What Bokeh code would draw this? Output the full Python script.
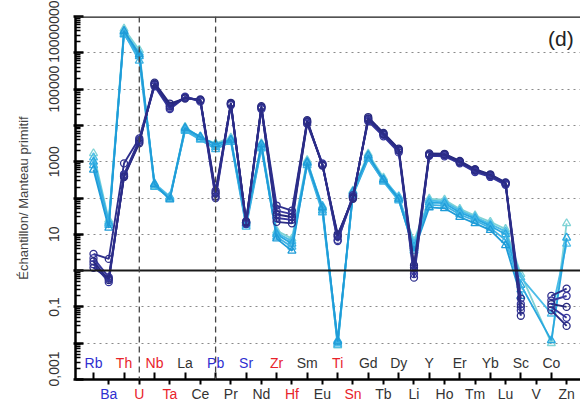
import math
from bokeh.plotting import figure
from bokeh.layouts import column
from bokeh.models import (Range1d, FixedTicker, Span, Label,
                          ColumnDataSource, CustomJSTickFormatter)
from bokeh.embed import file_html
from bokeh.resources import INLINE
from bokeh.core.properties import value

# ---------------- data ----------------
ELEMENTS = ["Rb", "Ba", "Th", "U", "Nb", "Ta", "La", "Ce", "Pb", "Pr", "Sr", "Nd",
            "Zr", "Hf", "Sm", "Eu", "Ti", "Sn", "Gd", "Tb", "Dy", "Li", "Y", "Ho",
            "Er", "Tm", "Yb", "Lu", "Sc", "V", "Co", "Zn"]
BLUE_ELEMENTS = ["Rb", "Ba", "Pb", "Sr"]
RED_ELEMENTS = ["Th", "U", "Nb", "Ta", "Zr", "Hf", "Ti", "Sn"]
DASHED_AT = ["U", "Pb"]

# dark samples (circles)
DARK_1 = [2.9, 2.1, 900, 4400, 140000, 35000, 58000, 50000, 160, 40000, 22, 32000,
          62, 45, 13000, 830, 7.0, 100, 15500, 5900, 2150, 0.64, 1600, 1600,
          1000, 590, 430, 250, 0.17, None, 0.2, 0.32]
DARK_2 = [2.2, 0.66, 420, 3800, 130000, 30000, 62000, 48000, 130, 38000, 20, 30000,
          45, 36, 12000, 900, 8.5, 110, 14000, 5500, 2000, 1.0, 1500, 1500,
          950, 560, 400, 240, 0.12, None, 0.15, 0.2]
DARK_3 = [1.8, 0.55, 390, 3200, 150000, 40000, 55000, 52000, 110, 42000, 21, 34000,
          35, 30, 14000, 780, 10.0, 95, 17000, 6200, 2300, 1.4, 1700, 1650,
          1050, 620, 450, 270, 0.1, None, 0.12, 0.1]
DARK_4 = [1.5, 0.48, 450, 4000, 120000, 28000, 60000, 45000, 100, 36000, 19, 28000,
          28, 25, 11000, 850, 6.5, 120, 13000, 5000, 1800, 0.8, 1450, 1400,
          900, 520, 380, 230, 0.08, None, 0.1, 0.05]
DARK_5 = [1.2, 0.6, 380, 3500, 135000, 33000, 57000, 50000, 140, 39000, 23, 31000,
          22, 20, 12500, 800, 9.0, 105, 15000, 5700, 2100, 1.2, 1550, 1550,
          980, 580, 420, 260, 0.057, None, 0.08, 0.03]

# light samples (triangles)
LIGHT_1 = [1700, 25, 4.6e6, 1.2e6, 210, 100, 9000, 4600, 3200, 4600, 22, 3200,
           12.6, 7.6, 1100, 51, 0.0086, 160, 1670, 365, 100, 6.5, 95, 90,
           50, 33, 22, 14, 0.8, None, 0.01, 20]
LIGHT_2 = [1300, 22, 3.8e6, 1.0e6, 250, 110, 8000, 5000, 2800, 4200, 18, 2800,
           11, 6.5, 1000, 60, 0.01, 140, 1400, 330, 110, 5.5, 85, 80,
           45, 30, 19, 12, 0.65, None, 0.065, 5.5]
LIGHT_3 = [1000, 20, 3.2e6, 8.0e5, 230, 95, 7500, 4200, 2500, 3800, 20, 2500,
           10, 5.5, 900, 45, 0.012, 120, 1200, 300, 90, 4.5, 75, 72,
           40, 27, 17, 10, 0.4, None, 0.012, 8.0]
LIGHT_4 = [800, 18, 3.5e6, 6.0e5, 200, 105, 7000, 4000, 2200, 3500, 16, 2300,
           8.5, 4.5, 800, 40, 0.009, 130, 1300, 280, 85, 4.0, 65, 62,
           35, 24, 15, 7, 0.3, None, None, None]
LIGHT_5 = [600, 15, 4.0e6, 9.0e5, 240, 90, 8500, 4800, 3000, 4000, 24, 3000,
           7.6, 3.5, 950, 55, 0.011, 150, 1500, 320, 95, 3.5, 55, 52,
           30, 20, 13, 5, 0.2, None, None, None]

DARK_SERIES = [DARK_1, DARK_2, DARK_3, DARK_4, DARK_5]
LIGHT_SERIES = [LIGHT_1, LIGHT_2, LIGHT_3, LIGHT_4, LIGHT_5]
DARK_COLORS = ["#2e2f8c", "#3a3a9e", "#26287c", "#34359a", "#2b2c86"]
LIGHT_COLORS = ["#7fd3d6", "#4cbde8", "#29a8e0", "#3fb3e4", "#1f9cd8"]

Y_MIN, Y_MAX = 1e-3, 1e7
LABEL_Y_UPPER = 0.00276   # upper row of element names, inside the frame
LABEL_Y_LOWER = 0.53      # lower row, in the strip below the axis (0..1)

# ---------------- figure ----------------
FONT = "Liberation Sans"
n = len(ELEMENTS)
xr = Range1d(-1.18, 31.91)
p = figure(width=580, height=386, x_range=xr,
           y_range=Range1d(Y_MIN, Y_MAX), y_axis_type="log",
           output_backend="svg", toolbar_location=None,
           min_border_left=75, min_border_right=0, min_border_top=16,
           min_border_bottom=7)
p.outline_line_color = None
p.background_fill_color = "white"
p.border_fill_color = "white"

e_lo, e_hi = int(round(math.log10(Y_MIN))), int(round(math.log10(Y_MAX)))
decades = [10.0 ** e for e in range(e_lo, e_hi + 1)]
minors = [k * 10.0 ** e for e in range(e_lo, e_hi) for k in range(2, 10)]
p.yaxis.ticker = FixedTicker(ticks=decades, minor_ticks=minors)
p.yaxis.formatter = CustomJSTickFormatter(code="""
const e = Math.round(Math.log10(tick));
if (Math.abs(e) % 2 !== 1) return "";
if (e < 0) return "0," + "0".repeat(-e - 1) + "1";
return "1" + "0".repeat(e);
""")
p.yaxis.major_label_orientation = "vertical"
p.yaxis.major_label_text_font = FONT
p.yaxis.major_label_text_font_size = "14px"
p.yaxis.major_label_text_color = "#333333"
p.yaxis.major_label_standoff = 14
p.yaxis.axis_label = "Échantillon/ Manteau primitif"
p.yaxis.axis_label_text_font = FONT
p.yaxis.axis_label_text_font_style = "normal"
p.yaxis.axis_label_text_font_size = "13px"
p.yaxis.axis_label_text_color = "#444444"
p.yaxis.axis_label_standoff = 16
p.yaxis.axis_line_width = 2.5
p.yaxis.major_tick_in = 8
p.yaxis.major_tick_out = 2
p.yaxis.major_tick_line_width = 2.5
p.yaxis.minor_tick_in = 5
p.yaxis.minor_tick_out = 0
p.yaxis.minor_tick_line_width = 1.5

p.ygrid.grid_line_color = "#8a8a8a"
p.ygrid.grid_line_dash = "2 4"
p.ygrid.grid_line_width = 1.2

p.xaxis.ticker = FixedTicker(ticks=list(range(0, n, 2)), minor_ticks=list(range(1, n, 2)))
p.xaxis.formatter = CustomJSTickFormatter(code="return '';")
p.xaxis.major_label_standoff = 0
p.xaxis.axis_line_width = 2.5
p.xaxis.major_tick_in = 7
p.xaxis.major_tick_out = 0
p.xaxis.major_tick_line_width = 2
p.xaxis.minor_tick_in = 0
p.xaxis.minor_tick_out = 5
p.xaxis.minor_tick_line_width = 2
p.xgrid.visible = False

# reference lines
p.add_layout(Span(location=1, dimension="width", line_color="#1a1a1a", line_width=2))
p.add_layout(Span(location=Y_MAX, dimension="width", line_color="#1a1a1a", line_width=2.5))
for el in DASHED_AT:
    p.add_layout(Span(location=ELEMENTS.index(el), dimension="height",
                      line_color="#444444", line_width=1.3, line_dash="6 4"))

# light samples (connected over missing values)
for vals, col in zip(LIGHT_SERIES, LIGHT_COLORS):
    xs = [i for i, v in enumerate(vals) if v is not None]
    ys = [v for v in vals if v is not None]
    p.line(xs, ys, line_color=col, line_width=1.8)
    p.scatter(xs, ys, marker="triangle", size=8, line_color=col,
              fill_alpha=0, line_width=1.3)

# dark samples (gaps at missing values)
for vals, col in zip(DARK_SERIES, DARK_COLORS):
    xs = list(range(n))
    ys = [float("nan") if v is None else v for v in vals]
    p.line(xs, ys, line_color=col, line_width=1.9)
    xs2 = [i for i, v in enumerate(vals) if v is not None]
    ys2 = [v for v in vals if v is not None]
    p.scatter(xs2, ys2, marker="circle", size=7, line_color=col,
              fill_alpha=0, line_width=1.3)

# element labels (alternating rows)
def colour(el):
    if el in BLUE_ELEMENTS:
        return "#2f2fd0"
    if el in RED_ELEMENTS:
        return "#e8232b"
    return "#333333"

upper = ColumnDataSource(dict(
    x=[i for i in range(n) if i % 2 == 0],
    y=[LABEL_Y_UPPER] * len(range(0, n, 2)),
    text=[ELEMENTS[i] for i in range(n) if i % 2 == 0],
    color=[colour(ELEMENTS[i]) for i in range(n) if i % 2 == 0]))
p.text(x="x", y="y", text="text", source=upper, text_color="color",
       text_align="center", text_baseline="middle",
       text_font=value(FONT), text_font_size="14px")

p.add_layout(Label(x=xr.end - 0.45, y=2.5e6, text="(d)", text_align="right",
                   text_baseline="middle", text_font=FONT, text_font_size="21px",
                   text_color="#222222"))

# strip below the axis for the lower row of names
p2 = figure(width=580, height=15, x_range=xr, y_range=Range1d(0, 1),
            output_backend="svg", toolbar_location=None,
            x_axis_location=None, y_axis_location=None,
            min_border_left=75, min_border_right=0, min_border_top=0,
            min_border_bottom=0)
p2.outline_line_color = None
p2.grid.visible = False
p2.background_fill_color = "white"
p2.border_fill_color = "white"
lower = ColumnDataSource(dict(
    x=[i for i in range(n) if i % 2 == 1],
    y=[LABEL_Y_LOWER] * len(range(1, n, 2)),
    text=[ELEMENTS[i] for i in range(n) if i % 2 == 1],
    color=[colour(ELEMENTS[i]) for i in range(n) if i % 2 == 1]))
p2.text(x="x", y="y", text="text", source=lower, text_color="color",
        text_align="center", text_baseline="middle",
        text_font=value(FONT), text_font_size="14px")

layout = column(p, p2, spacing=0)
open("out.html", "w").write(file_html(layout, INLINE))
